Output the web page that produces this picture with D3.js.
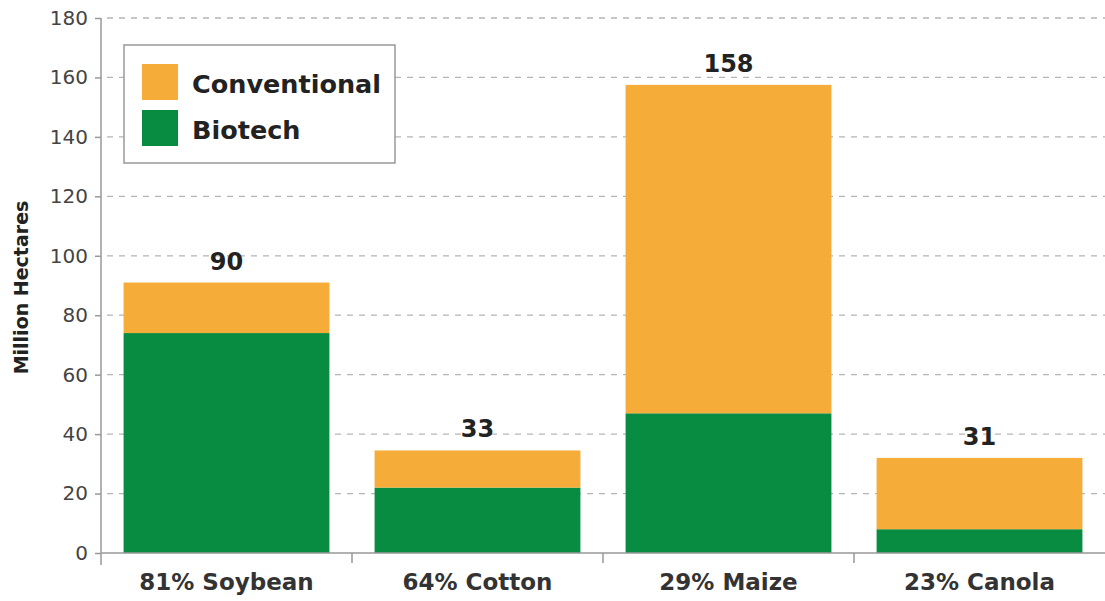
<!DOCTYPE html>
<html>
<head>
<meta charset="utf-8">
<script src="https://cdn.jsdelivr.net/npm/d3@7"></script>
<style>
  body { margin: 0; background: #fff; }
  svg { display: block; font-family: "DejaVu Sans", Arial, sans-serif; }
</style>
</head>
<body>
<svg id="chart" width="1105" height="601"></svg>
<script>
// crop data
var crops = ["81% Soybean", "64% Cotton", "29% Maize", "23% Canola"];
var biotech = [74, 22, 47, 8];
var conventional = [17, 12.5, 110.5, 24];
var totalLabels = ["90", "33", "158", "31"];
var yTicks = [0, 20, 40, 60, 80, 100, 120, 140, 160, 180];
var seriesNames = ["Conventional", "Biotech"];
var seriesColors = ["#f6ac38", "#078c42"];

var svg = d3.select("#chart");
var font = "DejaVu Sans, Arial, sans-serif";

// note: "top" is reserved on window, so use plot* names
var plotLeft = 101, plotRight = 1105, plotTop = 18, plotBottom = 553;

var x = d3.scaleBand()
    .domain(crops)
    .range([plotLeft, plotRight])
    .paddingInner(0.18)
    .paddingOuter(0.09);

var y = d3.scaleLinear()
    .domain([0, 180])
    .range([plotBottom, plotTop]);

// dashed gridlines
svg.append("g")
    .selectAll("line")
    .data(yTicks.filter(function(d){ return d > 0; }))
    .join("line")
    .attr("x1", plotLeft + 6)
    .attr("x2", plotRight)
    .attr("y1", function(d){ return y(d); })
    .attr("y2", function(d){ return y(d); })
    .attr("stroke", "#b5b5b5")
    .attr("stroke-width", 1.3)
    .attr("stroke-dasharray", "6,6");

// stacked bars
var rows = crops.map(function(c, i){
    return { crop: c, biotech: biotech[i], conventional: conventional[i], label: totalLabels[i] };
});

var stack = d3.stack().keys(["biotech", "conventional"])(rows);
var colorFor = { biotech: seriesColors[1], conventional: seriesColors[0] };

svg.append("g")
    .selectAll("g")
    .data(stack)
    .join("g")
    .attr("fill", function(s){ return colorFor[s.key]; })
    .selectAll("rect")
    .data(function(s){ return s; })
    .join("rect")
    .attr("x", function(d){ return x(d.data.crop); })
    .attr("width", x.bandwidth())
    .attr("y", function(d){ return y(d[1]); })
    .attr("height", function(d){ return y(d[0]) - y(d[1]); });

// total labels
svg.append("g")
    .selectAll("text")
    .data(rows)
    .join("text")
    .attr("x", function(d){ return x(d.crop) + x.bandwidth() / 2; })
    .attr("y", function(d){ return y(d.biotech + d.conventional) - 13; })
    .attr("text-anchor", "middle")
    .attr("font-size", 24)
    .attr("font-weight", "bold")
    .attr("fill", "#222")
    .text(function(d){ return d.label; });

// y axis
var yAxis = svg.append("g")
    .attr("transform", "translate(" + plotLeft + ",0)")
    .call(d3.axisLeft(y).tickValues(yTicks).tickSize(6).tickPadding(7));
yAxis.select(".domain").attr("stroke", "#999").attr("stroke-width", 1.5)
    .attr("d", "M0," + plotTop + "V" + (plotBottom + 12));
yAxis.selectAll(".tick line").attr("stroke", "#999").attr("stroke-width", 1.5);
yAxis.selectAll(".tick text")
    .attr("font-size", 20)
    .attr("fill", "#444")
    .attr("font-family", font);

// x axis baseline and band separators
var xAxis = svg.append("g")
    .attr("transform", "translate(0," + plotBottom + ")")
    .call(d3.axisBottom(x).tickSize(0).tickPadding(21));
xAxis.select(".domain").attr("stroke", "#999").attr("stroke-width", 1.5)
    .attr("d", "M" + plotLeft + ",0H" + plotRight);
xAxis.selectAll(".tick text")
    .attr("font-size", 23)
    .attr("font-weight", "bold")
    .attr("fill", "#333")
    .attr("font-family", font);

var step = x.step();
svg.append("g")
    .selectAll("line")
    .data(crops.slice(1))
    .join("line")
    .attr("x1", function(d){ return x(d) - (step - x.bandwidth()) / 2; })
    .attr("x2", function(d){ return x(d) - (step - x.bandwidth()) / 2; })
    .attr("y1", plotBottom)
    .attr("y2", plotBottom + 10)
    .attr("stroke", "#999")
    .attr("stroke-width", 1.5);

// y axis title
svg.append("text")
    .attr("transform", "translate(28," + ((plotTop + plotBottom) / 2 + 2) + ") rotate(-90)")
    .attr("text-anchor", "middle")
    .attr("font-size", 19)
    .attr("font-weight", "bold")
    .attr("fill", "#222")
    .text("Million Hectares");

// legend
var legend = svg.append("g").attr("transform", "translate(124,45)");
legend.append("rect")
    .attr("width", 271)
    .attr("height", 118)
    .attr("fill", "#fff")
    .attr("stroke", "#999")
    .attr("stroke-width", 1.5);

var items = legend.selectAll("g")
    .data(seriesNames)
    .join("g")
    .attr("transform", function(d, i){ return "translate(18," + (19 + i * 46) + ")"; });
items.append("rect")
    .attr("width", 36)
    .attr("height", 36)
    .attr("fill", function(d, i){ return seriesColors[i]; });
items.append("text")
    .attr("x", 50)
    .attr("y", 29)
    .attr("font-size", 25.5)
    .attr("font-weight", "bold")
    .attr("fill", "#222")
    .text(function(d){ return d; });
</script>
</body>
</html>
